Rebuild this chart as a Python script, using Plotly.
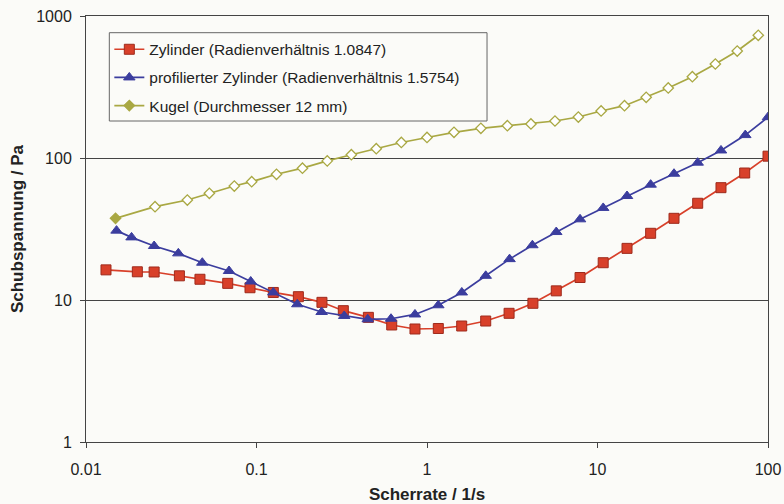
import plotly.graph_objects as go

# Zylinder (Radienverhältnis 1.0847)
x_zyl = [0.0131, 0.0200, 0.0251, 0.0353, 0.0466, 0.0678, 0.0916, 0.1255, 0.176, 0.242,
         0.323, 0.453, 0.621, 0.850, 1.165, 1.598, 2.21, 3.03, 4.18, 5.73,
         7.90, 10.8, 14.9, 20.5, 28.1, 38.7, 53.0, 73.0, 100.0]
y_zyl = [16.3, 15.8, 15.75, 14.8, 14.0, 13.1, 12.2, 11.3, 10.55, 9.63,
         8.41, 7.55, 6.67, 6.25, 6.30, 6.56, 7.11, 8.06, 9.48, 11.6,
         14.4, 18.3, 23.1, 29.5, 37.6, 48.0, 61.8, 78.4, 103.0]

# profilierter Zylinder (Radienverhältnis 1.5754)
x_prof = [0.0151, 0.0185, 0.0251, 0.0348, 0.0481, 0.0690, 0.0925, 0.1255, 0.1735, 0.241,
          0.327, 0.449, 0.615, 0.850, 1.165, 1.60, 2.21, 3.05, 4.15, 5.73,
          7.90, 10.8, 14.9, 20.5, 28.1, 38.7, 53.0, 73.6, 100.0]
y_prof = [30.8, 27.6, 24.0, 21.3, 18.3, 16.0, 13.5, 11.3, 9.33, 8.23,
          7.72, 7.31, 7.38, 7.91, 9.18, 11.3, 14.8, 19.4, 24.3, 30.1,
          37.0, 44.5, 54.0, 64.9, 77.5, 92.7, 113.0, 145.0, 194.0]

# Kugel (Durchmesser 12 mm)
x_kug = [0.0149, 0.0254, 0.0393, 0.0529, 0.0741, 0.0937, 0.131, 0.186, 0.260, 0.360,
         0.504, 0.707, 1.00, 1.44, 2.07, 2.96, 4.07, 5.63, 7.72, 10.5,
         14.4, 19.3, 26.0, 36.0, 49.1, 66.0, 87.7]
y_kug = [37.6, 45.4, 50.6, 56.4, 63.5, 68.1, 76.8, 84.8, 95.4, 105.5,
         116.3, 128.6, 139.5, 151.7, 161.9, 168.9, 173.6, 182.2, 194.4, 214.3,
         233.5, 267.6, 311.2, 373.7, 459.2, 566.8, 731.3]

x_tickvals = [0.01, 0.1, 1, 10, 100]
x_ticktext = ["0.01", "0.1", "1", "10", "100"]
y_tickvals = [1, 10, 100, 1000]
y_ticktext = ["1", "10", "100", "1000"]

names = ["Zylinder (Radienverhältnis 1.0847)",
         "profilierter Zylinder (Radienverhältnis 1.5754)",
         "Kugel (Durchmesser 12 mm)"]

RED = "#D8402A"
RED_EDGE = "#9E2A1C"
BLUE = "#3B3D9E"
OLIVE = "#A9A843"
BG = "#FBFBF8"

fig = go.Figure()
fig.add_trace(go.Scatter(
    x=x_zyl, y=y_zyl, mode="lines+markers", name=names[0], legendgroup="a",
    line=dict(color=RED, width=1.7),
    marker=dict(symbol="square", size=10, color=RED, line=dict(color=RED_EDGE, width=1))))
fig.add_trace(go.Scatter(
    x=x_prof, y=y_prof, mode="lines+markers", name=names[1], legendgroup="b",
    line=dict(color=BLUE, width=1.7),
    marker=dict(symbol="triangle-up", size=10, color=BLUE, line=dict(color=BLUE, width=1))))
kug_fill = [OLIVE] + ["#FFFFFF"] * (len(x_kug) - 1)
fig.add_trace(go.Scatter(
    x=x_kug, y=y_kug, mode="lines+markers", name=names[2], legendgroup="c",
    line=dict(color=OLIVE, width=1.7),
    marker=dict(symbol="diamond", size=8, color=kug_fill, line=dict(color=OLIVE, width=1.3))))

# legend frame (Excel-style fixed-size box)
fig.add_shape(type="rect", xref="paper", yref="paper",
              x0=0.0342, x1=0.588, y0=0.7535, y1=0.9608,
              line=dict(color="#666666", width=1), fillcolor=BG, layer="above")

AXIS = "#444444"
fig.update_layout(
    width=784, height=504,
    margin=dict(l=86, r=16, t=16, b=62, autoexpand=False),
    paper_bgcolor=BG, plot_bgcolor=BG,
    font=dict(family="Liberation Sans, Arial, sans-serif", color="#222222", size=16),
    showlegend=True,
    legend=dict(x=0.0342, y=0.9608, xanchor="left", yanchor="top",
                bgcolor="rgba(0,0,0,0)", borderwidth=0,
                font=dict(size=15.5, color="#222222"),
                itemwidth=30, tracegroupgap=5, traceorder="grouped"),
    xaxis=dict(type="log", range=[-2, 2], tickvals=x_tickvals, ticktext=x_ticktext,
               showgrid=False, zeroline=False, showline=True, linecolor=AXIS, linewidth=1,
               mirror=True, ticks="outside", ticklen=5, tickcolor=AXIS,
               tickfont=dict(size=16), ticklabelstandoff=8, automargin=False,
               title=dict(text="<b>Scherrate / 1/s</b>", font=dict(size=17), standoff=10)),
    yaxis=dict(type="log", range=[0, 3], tickvals=y_tickvals, ticktext=y_ticktext,
               showgrid=True, gridcolor=AXIS, gridwidth=1, zeroline=False,
               showline=True, linecolor=AXIS, linewidth=1, mirror=True,
               ticks="outside", ticklen=5, tickcolor=AXIS,
               tickfont=dict(size=16), ticklabelstandoff=5, automargin=False,
               title=dict(text="<b>Schubspannung / Pa</b>", font=dict(size=17), standoff=8)),
)

fig.write_html("out.html", config={"displayModeBar": False},
               post_script="document.body.style.margin='0';document.body.style.background='#FBFBF8';")
